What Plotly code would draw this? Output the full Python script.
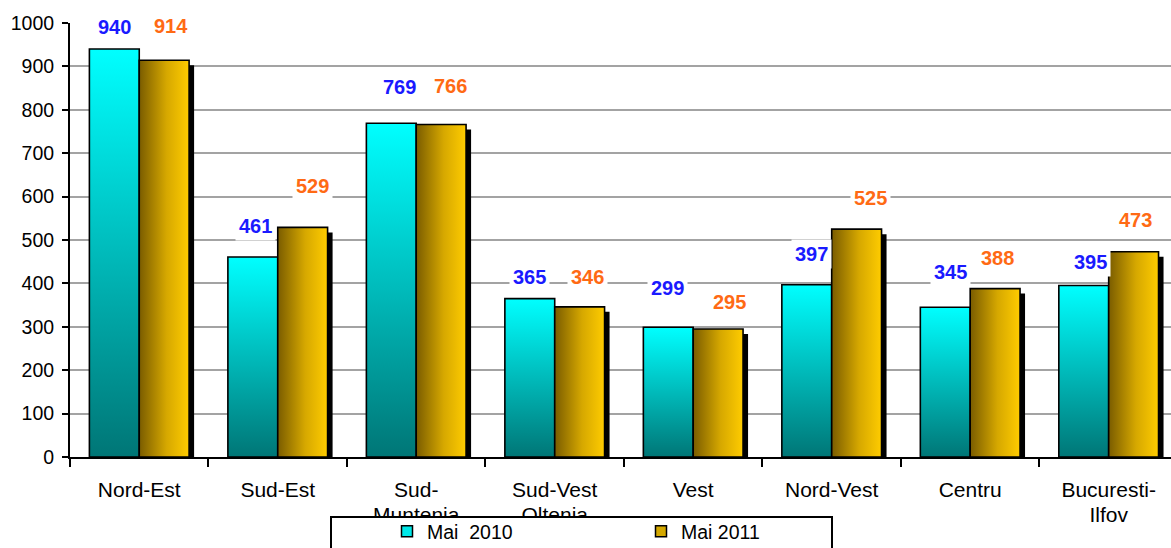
import plotly.graph_objects as go

# ---------------- data ----------------
categories = ["Nord-Est", "Sud-Est", "Sud-<br>Muntenia", "Sud-Vest<br>Oltenia",
              "Vest", "Nord-Vest", "Centru", "Bucuresti-<br>Ilfov"]
values_2010 = [940, 461, 769, 365, 299, 397, 345, 395]
values_2011 = [914, 529, 766, 346, 295, 525, 388, 473]
series_names = ["Mai\u00a0 2010", "Mai 2011"]
y_ticks = [0, 100, 200, 300, 400, 500, 600, 700, 800, 900, 1000]

# label placement offsets (pixels, style only)
lab_dx_2010 = [0, 3, 8, 0, -1, 4.5, 5, 7]
lab_dy_2010 = [22, 31, 36, 22, 39, 31, 35, 24]
lab_dx_2011 = [7, 10, 9, 7.6, 11, 14, 2.5, 1.4]
lab_dy_2011 = [34, 41, 39, 30, 27, 31, 31, 32]

# ---------------- geometry / style ----------------
W, H = 1171, 548
ML, MR, MT, MB = 70, 0, 23, 91
PW = W - ML - MR
PH = H - MT - MB
XMIN, XMAX = -0.5, 7.45
YMAX = 1000
BW = 0.36
PX_X = PW / (XMAX - XMIN)
PX_Y = PH / YMAX
SH = 5  # shadow offset in px
FONT = "Liberation Sans, Arial, sans-serif"

C2010 = [[0, "#007676"], [1, "#00FFFF"]]
C2011 = [[0, "#7a5c00"], [0.55, "#d6a800"], [1, "#ffcc00"]]

# category labels split into first / second line (tighter line spacing as in source)
cat_line1 = [c.split("<br>")[0] for c in categories]
cat_line2 = [c.split("<br>")[1] if "<br>" in c else "" for c in categories]

fig = go.Figure()


def rect(x0, x1, y0, y1):
    return [x0, x0, x1, x1, x0], [y0, y1, y1, y0, y0]


# shadows of 2011 bars
for i, v in enumerate(values_2011):
    xs, ys = rect(i + SH / PX_X, i + BW + SH / PX_X, -SH / PX_Y, v - SH / PX_Y)
    fig.add_trace(go.Scatter(x=xs, y=ys, fill="toself", fillcolor="black", mode="lines",
                             line=dict(width=0, color="black"), showlegend=False,
                             hoverinfo="skip"))

# 2010 bars (vertical gradient)
for i, v in enumerate(values_2010):
    xs, ys = rect(i - BW, i, 0, v)
    fig.add_trace(go.Scatter(x=xs, y=ys, fill="toself", mode="lines",
                             fillgradient=dict(type="vertical", colorscale=C2010, start=0, stop=v),
                             line=dict(width=1.6, color="black"), showlegend=False,
                             name=series_names[0], hoverinfo="skip"))

# 2011 bars (horizontal gradient)
for i, v in enumerate(values_2011):
    xs, ys = rect(i, i + BW, 0, v)
    fig.add_trace(go.Scatter(x=xs, y=ys, fill="toself", mode="lines",
                             fillgradient=dict(type="horizontal", colorscale=C2011,
                                               start=i, stop=i + BW),
                             line=dict(width=1.6, color="black"), showlegend=False,
                             name=series_names[1], hoverinfo="skip"))

# legend entries
fig.add_trace(go.Scatter(x=[None], y=[None], mode="markers", name=series_names[0],
                         marker=dict(symbol="square", size=11, color="#00e8e8",
                                     line=dict(color="black", width=1.5))))
fig.add_trace(go.Scatter(x=[None], y=[None], mode="markers", name=series_names[1],
                         marker=dict(symbol="square", size=11, color="#d4a800",
                                     line=dict(color="black", width=1.5))))
# carrier for the second-line axis
fig.add_trace(go.Scatter(x=[None], y=[None], xaxis="x2", showlegend=False, hoverinfo="skip"))

# data labels
annotations = []
for i, v in enumerate(values_2010):
    annotations.append(dict(x=i - BW / 2, y=v, xref="x", yref="y", text=str(v),
                            showarrow=False, xshift=lab_dx_2010[i], yshift=lab_dy_2010[i],
                            font=dict(family=FONT, size=20, color="#1a1aff", weight="bold"),
                            bgcolor="white", borderpad=3))
for i, v in enumerate(values_2011):
    annotations.append(dict(x=i + BW / 2, y=v, xref="x", yref="y", text=str(v),
                            showarrow=False, xshift=lab_dx_2011[i], yshift=lab_dy_2011[i],
                            font=dict(family=FONT, size=20, color="#ff6a14", weight="bold"),
                            bgcolor="white", borderpad=3))


def pxx(p):
    return (p - ML) / PW


def pxy(p):
    return (MT + PH - p) / PH


fig.update_layout(
    width=W, height=H,
    margin=dict(l=ML, r=MR, t=MT, b=MB, pad=0, autoexpand=False),
    paper_bgcolor="white", plot_bgcolor="white",
    font=dict(family=FONT, color="black"),
    annotations=annotations,
    showlegend=True,
    legend=dict(orientation="h", xref="container", yref="container",
                x=387 / W, y=(H - 512) / H, xanchor="left", yanchor="top",
                bgcolor="rgba(0,0,0,0)", borderwidth=0, entrywidth=209,
                entrywidthmode="pixels", font=dict(size=19.5, family=FONT)),
    shapes=[dict(type="rect", xref="paper", yref="paper", layer="above",
                 x0=pxx(331), x1=pxx(832), y0=pxy(517), y1=pxy(580),
                 fillcolor="white", line=dict(color="black", width=2))],
    xaxis=dict(range=[XMIN, XMAX], tickmode="array", tickvals=list(range(len(categories))),
               ticktext=cat_line1, ticks="", showline=True, linecolor="black", linewidth=2,
               showgrid=False, zeroline=False, tickfont=dict(size=21), ticklabelstandoff=13,
               minor=dict(tickmode="array", tickvals=[k + 0.5 for k in range(-1, 8)],
                          ticks="outside", ticklen=8, tickwidth=1.5, tickcolor="black",
                          showgrid=False)),
    xaxis2=dict(range=[XMIN, XMAX], overlaying="x", anchor="y", side="bottom",
                tickmode="array", tickvals=list(range(len(categories))), ticktext=cat_line2,
                ticks="", showline=False, showgrid=False, zeroline=False,
                tickfont=dict(size=21), ticklabelstandoff=43),
    yaxis=dict(range=[0, YMAX], tickmode="array", tickvals=y_ticks, ticks="outside",
               ticklen=6, tickwidth=2, tickcolor="black", showline=True, linecolor="black",
               linewidth=2, showgrid=True, gridcolor="#a3a3a3", gridwidth=1.6,
               zeroline=False, tickfont=dict(size=19.5), ticklabelstandoff=4),
)

fig.write_html("out.html", config={"displayModeBar": False},
               post_script="document.body.style.margin='0';document.body.style.overflow='hidden';")
